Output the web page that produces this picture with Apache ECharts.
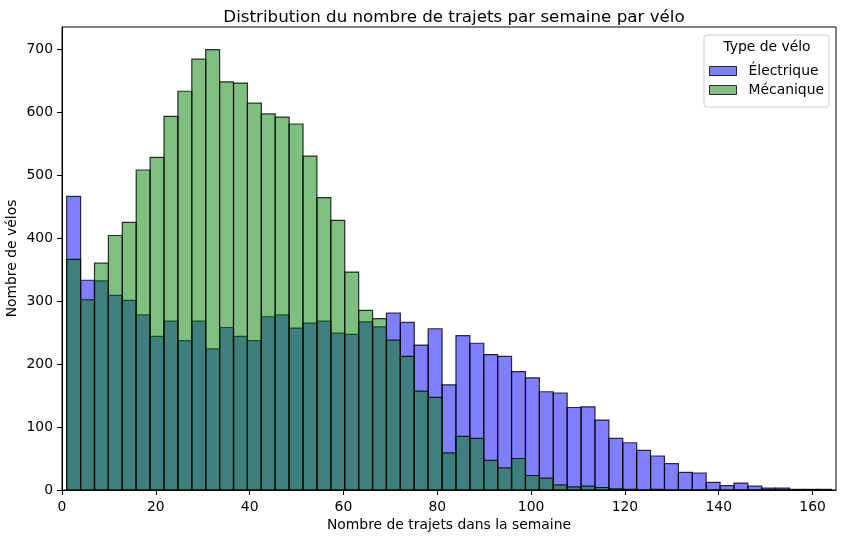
<!DOCTYPE html>
<html>
<head>
<meta charset="utf-8">
<script src="https://cdn.jsdelivr.net/npm/echarts@6/dist/echarts.min.js"></script>
<style>html,body{margin:0;padding:0;background:#fff;}#c{width:850px;height:540px;}</style>
</head>
<body>
<div id="c"></div>
<script>
// Histogram parameters
const BIN_START = 1;
const BIN_WIDTH = 163 / 55;

const elecCounts = [466,333,332,309,301,278,244,268,237,268,224,258,244,237,275,278,257,265,268,249,247,267,259,281,266,230,256,167,245,233,215,212,188,178,156,154,131,132,111,82,75,63,54,42,28,27,12,7,11,6,3,3,1,1,1];
const mecaCounts = [366,302,360,404,425,508,528,593,633,684,699,648,646,614,597,592,581,530,464,428,346,285,272,238,212,157,147,59,85,82,47,35,50,23,19,8,5,6,4,2,1,0,1,0,0,0,0,0,0,0,0,0,0,0,0];

const seriesNames = ['Électrique', 'Mécanique'];
const xTicks = [0,20,40,60,80,100,120,140,160];
const yTicks = [0,100,200,300,400,500,600,700];

const FONT = 'DejaVu Sans';
const colors = {
  'Électrique': 'rgba(0,0,255,0.5)',
  'Mécanique': 'rgba(0,128,0,0.5)'
};
const edge = 'rgba(0,0,0,0.8)';

function toBins(counts) {
  return counts.map((v, i) => [BIN_START + i * BIN_WIDTH, BIN_START + (i + 1) * BIN_WIDTH, v]);
}

function makeSeries(name, counts) {
  const fill = colors[name];
  return {
    type: 'custom',
    name: name,
    clip: true,
    itemStyle: { color: fill, borderColor: edge, borderWidth: 1 },
    encode: { x: [0, 1], y: 2 },
    data: toBins(counts),
    renderItem: function (params, api) {
      const p0 = api.coord([api.value(0), 0]);
      const p1 = api.coord([api.value(1), api.value(2)]);
      return {
        type: 'rect',
        shape: { x: p0[0], y: p1[1], width: p1[0] - p0[0], height: p0[1] - p1[1] },
        style: { fill: fill, stroke: edge, lineWidth: 1.2 }
      };
    }
  };
}

const chart = echarts.init(document.getElementById('c'), null, { renderer: 'canvas' });
chart.setOption({
  animation: false,
  backgroundColor: '#fff',
  title: {
    text: 'Distribution du nombre de trajets par semaine par vélo',
    left: 449, top: 4, textAlign: 'center',
    textStyle: { fontFamily: FONT, fontSize: 16.7, fontWeight: 'normal', color: '#000' }
  },
  grid: {
    left: 62, right: 14, top: 27, bottom: 50,
    containLabel: false, outerBoundsMode: 'none',
    show: true, borderColor: '#000', borderWidth: 1, backgroundColor: 'transparent'
  },
  xAxis: {
    type: 'value', min: 0, max: 165,
    name: 'Nombre de trajets dans la semaine', nameLocation: 'middle', nameGap: 28,
    nameMoveOverlap: false,
    nameTextStyle: { fontFamily: FONT, fontSize: 13.9, color: '#000' },
    axisLine: { show: true, onZero: false, lineStyle: { color: '#000', width: 1 } },
    axisTick: { show: true, length: 5, customValues: xTicks, lineStyle: { color: '#000' } },
    axisLabel: { customValues: xTicks, fontFamily: FONT, fontSize: 13.9, color: '#000', margin: 10 },
    splitLine: { show: false }
  },
  yAxis: {
    type: 'value', min: 0, max: 735,
    name: 'Nombre de vélos', nameLocation: 'middle', nameGap: 43,
    nameMoveOverlap: false,
    nameTextStyle: { fontFamily: FONT, fontSize: 13.9, color: '#000' },
    axisLine: { show: true, lineStyle: { color: '#000', width: 1 } },
    axisTick: { show: true, length: 5, customValues: yTicks, lineStyle: { color: '#000' } },
    axisLabel: { customValues: yTicks, fontFamily: FONT, fontSize: 13.9, color: '#000', margin: 9 },
    splitLine: { show: false }
  },
  legend: {
    orient: 'vertical', left: 709, top: 64, z: 10, padding: 0,
    itemWidth: 27, itemHeight: 9, itemGap: 5,
    textStyle: { fontFamily: FONT, fontSize: 13.9, color: '#000', padding: [0, 0, 0, 7] },
    data: seriesNames.map(n => ({ name: n, icon: 'rect', itemStyle: { color: colors[n], borderColor: edge, borderWidth: 1 } }))
  },
  graphic: [
    { type: 'rect', z: 5, shape: { x: 704, y: 35, width: 125, height: 72, r: 3 },
      style: { fill: 'rgba(255,255,255,0.8)', stroke: '#cccccc', lineWidth: 1 } },
    { type: 'text', z: 6, x: 767, y: 47,
      style: { text: 'Type de vélo', fontFamily: FONT, fontSize: 13.9, fill: '#000', align: 'center', verticalAlign: 'middle' } }
  ],
  series: [
    makeSeries('Électrique', elecCounts),
    makeSeries('Mécanique', mecaCounts)
  ]
});
</script>
</body>
</html>
